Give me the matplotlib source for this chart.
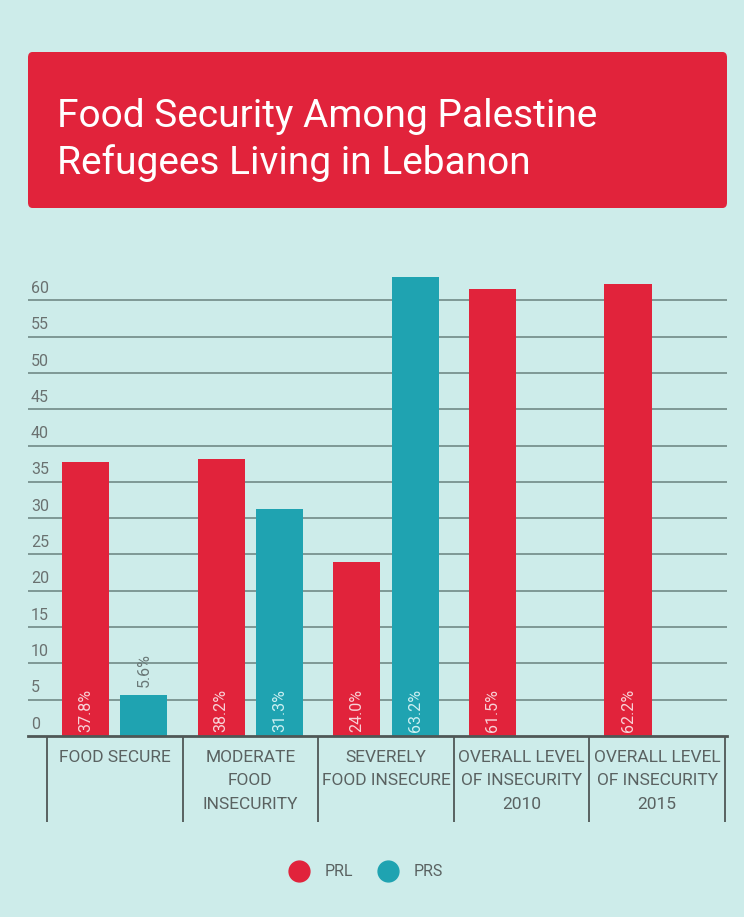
import matplotlib.pyplot as plt
from matplotlib.patches import FancyBboxPatch
from matplotlib.lines import Line2D

categories = ['FOOD SECURE', 'MODERATE\nFOOD\nINSECURITY', 'SEVERELY\nFOOD INSECURE',
              'OVERALL LEVEL\nOF INSECURITY\n2010', 'OVERALL LEVEL\nOF INSECURITY\n2015']
prl = [37.8, 38.2, 24.0, 61.5, 62.2]
prs = [5.6, 31.3, 63.2, None, None]
yticks = list(range(0, 61, 5))

RED = '#e1233b'
TEAL = '#1fa3b1'
BG = '#cdecea'
plt.rcParams['font.family'] = ['Roboto', 'DejaVu Sans']

fig = plt.figure(figsize=(7.44, 9.17), dpi=100, facecolor=BG)

# title box
box = FancyBboxPatch((28 / 744, 1 - 208 / 917), 699 / 744, 156 / 917,
                     boxstyle='round,pad=0,rounding_size=0.006',
                     transform=fig.transFigure, facecolor=RED, edgecolor='none')
fig.patches.append(box)
fig.text(57 / 744, 1 - 140 / 917, 'Food Security Among Palestine\nRefugees Living in Lebanon',
         color='white', fontsize=28, va='center', ha='left', linespacing=1.3)

ax = fig.add_axes([28 / 744, 181 / 917, 699 / 744, 472 / 917])
ax.set_facecolor(BG)
ax.set_xlim(-0.64, 4.515)
ax.set_ylim(0, 65)

w = 0.347
off = 0.215
for i in range(len(categories)):
    ax.bar(i - off, prl[i], width=w, color=RED, zorder=3)
    ax.text(i - off, 0.6, f'{prl[i]:.1f}%', rotation=90, ha='center', va='bottom',
            color='#f8d3d8', fontsize=11.5, zorder=4)
    if prs[i] is not None:
        ax.bar(i + off, prs[i], width=w, color=TEAL, zorder=3)
        if prs[i] < 10:
            ax.text(i + off, prs[i] + 1.2, f'{prs[i]:.1f}%', rotation=90, ha='center',
                    va='bottom', color='#6a7877', fontsize=11.5, zorder=4)
        else:
            ax.text(i + off, 0.6, f'{prs[i]:.1f}%', rotation=90, ha='center', va='bottom',
                    color='#cdf0f2', fontsize=11.5, zorder=4)

# gridlines and y labels above them
for t in yticks:
    if t > 0:
        ax.axhline(t, color='#78928f', lw=1.3, zorder=1)
    ax.text(0.004, t + 0.6, str(t), transform=ax.get_yaxis_transform(),
            ha='left', va='bottom', color='#6a7170', fontsize=11.5)
ax.set_yticks([])

for s in ['top', 'right', 'left']:
    ax.spines[s].set_visible(False)
ax.spines['bottom'].set_color('#4f5756')
ax.spines['bottom'].set_linewidth(2)
ax.spines['bottom'].set_zorder(5)

ax.set_xticks(range(len(categories)))
ax.set_xticklabels(categories, fontsize=12.5, color='#5a6261', va='top')
for lbl in ax.get_xticklabels():
    lbl.set_linespacing(1.7)
ax.set_xticks([i - 0.5 for i in range(len(categories) + 1)], minor=True)
ax.tick_params(axis='x', which='major', length=0, pad=10)
ax.tick_params(axis='x', which='minor', length=62, width=1.3, color='#4f5756', direction='out')

handles = [Line2D([], [], marker='o', ls='none', markersize=15, color=RED),
           Line2D([], [], marker='o', ls='none', markersize=15, color=TEAL)]
fig.legend(handles, ['PRL', 'PRS'], loc='center', bbox_to_anchor=(363 / 744, 1 - 872 / 917),
           ncol=2, frameon=False, fontsize=11.5, labelcolor='#5a6261',
           handletextpad=0.6, columnspacing=1.2)

fig.savefig('out.png', dpi=100, facecolor=BG)
